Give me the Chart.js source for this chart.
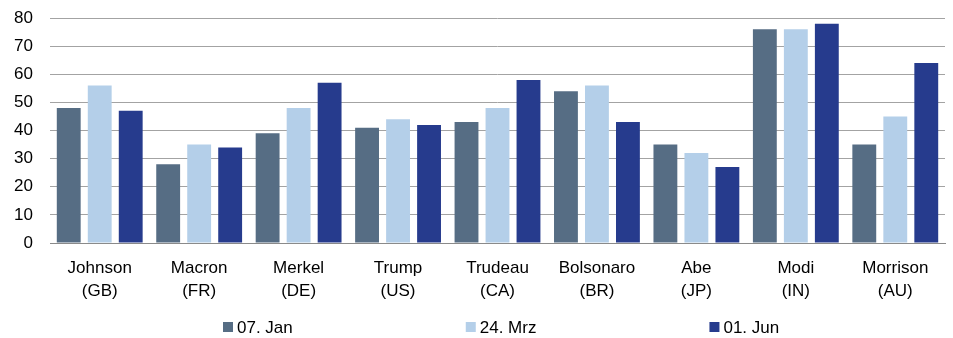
<!DOCTYPE html>
<html>
<head>
<meta charset="utf-8">
<script src="https://cdn.jsdelivr.net/npm/chart.js@4/dist/chart.umd.min.js"></script>
<style>
  html, body { margin: 0; padding: 0; background: #ffffff; }
  #wrap { width: 953px; height: 338px; position: relative; }
</style>
</head>
<body>
<div id="wrap"><canvas id="chart" width="953" height="338"></canvas></div>
<script>
// Leaders and their approval values on three dates
const leaders = [
  ['Johnson', '(GB)'], ['Macron', '(FR)'], ['Merkel', '(DE)'],
  ['Trump', '(US)'], ['Trudeau', '(CA)'], ['Bolsonaro', '(BR)'],
  ['Abe', '(JP)'], ['Modi', '(IN)'], ['Morrison', '(AU)']
];
const seriesNames = ['07. Jan', '24. Mrz', '01. Jun'];
const jan07 = [48, 28, 39, 41, 43, 54, 35, 76, 35];
const mrz24 = [56, 35, 48, 44, 48, 56, 32, 76, 45];
const jun01 = [47, 34, 57, 42, 58, 43, 27, 78, 64];
const yTicks = [0, 10, 20, 30, 40, 50, 60, 70, 80];

const colors = ['#566d84', '#b4cfe9', '#263b8d'];
const FONT = 'Liberation Sans, Arial, sans-serif';

// Legend drawn as a single wide-spaced row under the axis
const spacedLegend = {
  id: 'spacedLegend',
  afterDraw(chart) {
    const ctx = chart.ctx;
    ctx.save();
    ctx.font = '17px ' + FONT;
    ctx.textBaseline = 'middle';
    ctx.textAlign = 'left';
    const gap = 173, box = 10, boxGap = 4;
    const y = 327;
    let x = 223;
    chart.data.datasets.forEach(ds => {
      ctx.fillStyle = ds.backgroundColor;
      ctx.fillRect(x, y - box / 2, box, box);
      ctx.fillStyle = '#000000';
      ctx.fillText(ds.label, x + box + boxGap, y + 1);
      x += box + boxGap + ctx.measureText(ds.label).width + gap;
    });
    ctx.restore();
  }
};

new Chart(document.getElementById('chart'), {
  type: 'bar',
  data: {
    labels: leaders,
    datasets: [
      { label: seriesNames[0], data: jan07, backgroundColor: colors[0] },
      { label: seriesNames[1], data: mrz24, backgroundColor: colors[1] },
      { label: seriesNames[2], data: jun01, backgroundColor: colors[2] }
    ]
  },
  options: {
    responsive: false,
    animation: false,
    devicePixelRatio: 1,
    layout: { padding: { top: 18, right: 8, bottom: 0, left: 0 } },
    datasets: {
      bar: { categoryPercentage: 0.935, barPercentage: 0.77, borderWidth: 0 }
    },
    plugins: {
      legend: { display: false },
      tooltip: { enabled: false }
    },
    scales: {
      x: {
        grid: { display: false, drawTicks: false },
        border: { display: true, color: '#8a8a8a', width: 1 },
        ticks: {
          color: '#000000',
          font: { family: FONT, size: 17, lineHeight: 1.35 },
          padding: 14,
          maxRotation: 0,
          autoSkip: false
        },
        afterFit(scale) {
          scale.height = 95;
          scale.paddingLeft = 0;
          scale.paddingRight = 0;
        }
      },
      y: {
        min: 0,
        max: 80,
        afterBuildTicks(scale) { scale.ticks = yTicks.map(v => ({ value: v })); },
        grid: { color: '#a3a3a3', lineWidth: 1, drawTicks: false },
        border: { display: false },
        ticks: {
          color: '#000000',
          font: { family: FONT, size: 17 },
          padding: 17
        },
        afterFit(scale) {
          scale.width = 50;
          scale.paddingTop = 0;
          scale.paddingBottom = 0;
        }
      }
    }
  },
  plugins: [spacedLegend]
});
</script>
</body>
</html>
